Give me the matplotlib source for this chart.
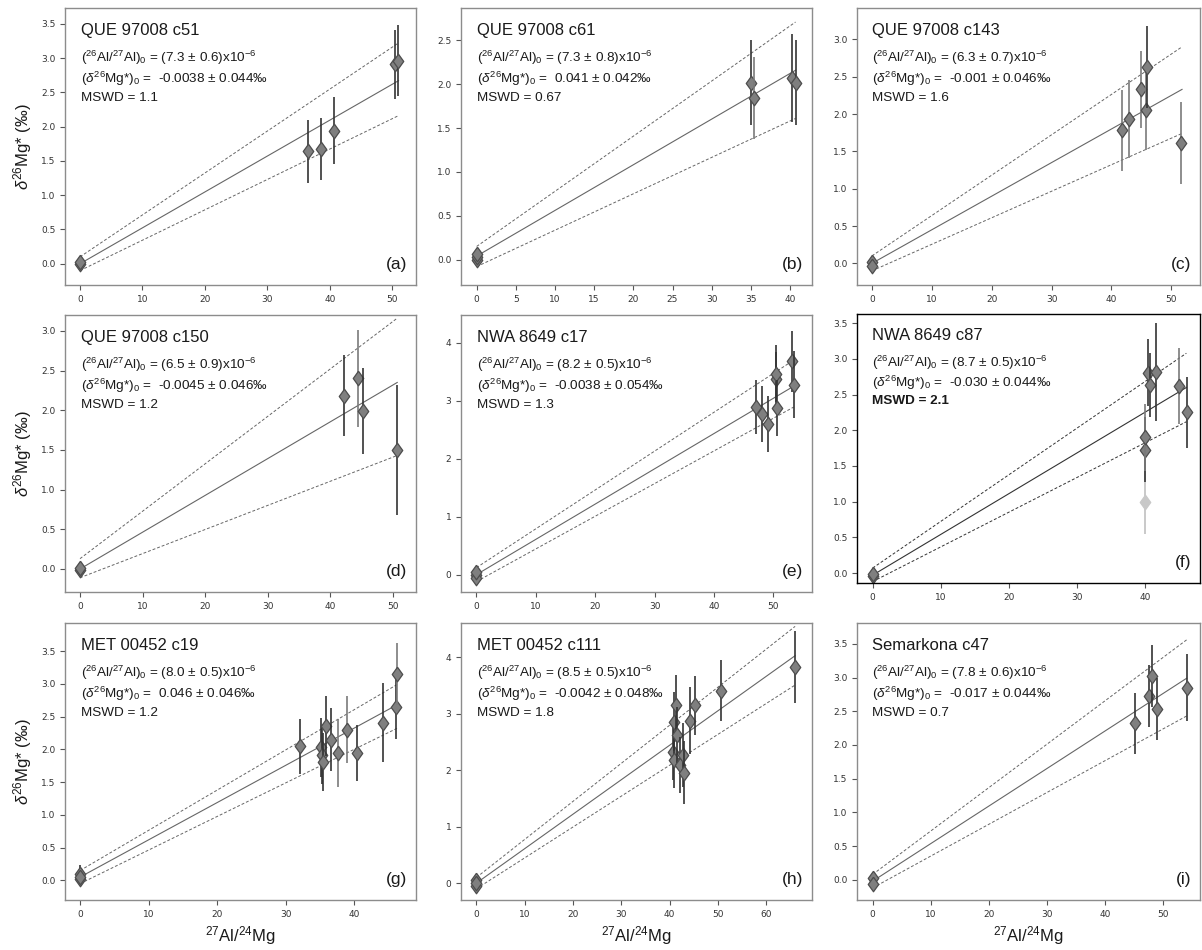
import numpy as np
import matplotlib
matplotlib.use('Agg')
import matplotlib.pyplot as plt
from matplotlib.ticker import MultipleLocator

plt.rcParams['font.family'] = ['Liberation Sans', 'DejaVu Sans']
plt.rcParams['mathtext.fontset'] = 'custom'
plt.rcParams['mathtext.rm'] = 'Liberation Sans'
plt.rcParams['mathtext.it'] = 'Liberation Sans:italic'
plt.rcParams['mathtext.bf'] = 'Liberation Sans:bold'

# sample names and fit results
names = ['QUE 97008 c51', 'QUE 97008 c61', 'QUE 97008 c143',
         'QUE 97008 c150', 'NWA 8649 c17', 'NWA 8649 c87',
         'MET 00452 c19', 'MET 00452 c111', 'Semarkona c47']
ratio = ['(7.3 ± 0.6)', '(7.3 ± 0.8)', '(6.3 ± 0.7)',
         '(6.5 ± 0.9)', '(8.2 ± 0.5)', '(8.7 ± 0.5)',
         '(8.0 ± 0.5)', '(8.5 ± 0.5)', '(7.8 ± 0.6)']
intercept = ['-0.0038 ± 0.044', '0.041 ± 0.042', '-0.001 ± 0.046',
             '-0.0045 ± 0.046', '-0.0038 ± 0.054', '-0.030 ± 0.044',
             '0.046 ± 0.046', '-0.0042 ± 0.048', '-0.017 ± 0.044']
mswd = ['1.1', '0.67', '1.6', '1.2', '1.3', '2.1', '1.2', '1.8', '0.7']
letters = ['a', 'b', 'c', 'd', 'e', 'f', 'g', 'h', 'i']

# data points: 27Al/24Mg, d26Mg*, 2sigma error
x_a = [0, 0, 36.5, 38.6, 40.6, 50.5, 50.9]
y_a = [0.0, 0.02, 1.64, 1.67, 1.94, 2.91, 2.96]
e_a = [0.06, 0.06, 0.46, 0.45, 0.49, 0.50, 0.52]

x_b = [0, 0, 0, 35.0, 35.4, 40.3, 40.7]
y_b = [-0.01, 0.03, 0.06, 2.02, 1.84, 2.07, 2.02]
e_b = [0.05, 0.05, 0.05, 0.49, 0.47, 0.50, 0.49]

x_c = [0, 0, 41.7, 42.9, 44.9, 45.7, 46.0, 51.6]
y_c = [0.02, -0.03, 1.78, 1.93, 2.33, 2.05, 2.63, 1.61]
e_c = [0.06, 0.06, 0.54, 0.52, 0.52, 0.53, 0.55, 0.55]

x_d = [0, 0, 42.2, 44.4, 45.3, 50.7]
y_d = [-0.01, 0.01, 2.18, 2.40, 1.99, 1.50]
e_d = [0.07, 0.07, 0.51, 0.61, 0.54, 0.82]

x_e = [0, 0, 0, 47.1, 48.0, 49.1, 50.4, 50.5, 50.6, 53.1, 53.4]
y_e = [0.0, -0.06, 0.05, 2.89, 2.77, 2.60, 3.38, 3.47, 2.88, 3.68, 3.28]
e_e = [0.08, 0.08, 0.08, 0.47, 0.48, 0.48, 0.47, 0.49, 0.48, 0.53, 0.58]

x_f = [0, 0, 39.9, 40.0, 40.0, 40.4, 40.6, 41.5, 44.9, 46.1]
y_f = [-0.04, -0.02, 0.99, 1.73, 1.90, 2.81, 2.64, 2.82, 2.62, 2.25]
e_f = [0.07, 0.07, 0.45, 0.46, 0.47, 0.47, 0.45, 0.69, 0.53, 0.50]

x_g = [0, 0, 0, 32.1, 35.1, 35.3, 35.4, 35.8, 36.6, 37.6, 39.0, 40.4, 44.2, 46.1, 46.3]
y_g = [0.09, 0.02, 0.05, 2.05, 2.03, 1.92, 1.81, 2.36, 2.15, 1.95, 2.30, 1.95, 2.41, 2.65, 3.15]
e_g = [0.15, 0.10, 0.10, 0.42, 0.45, 0.45, 0.44, 0.46, 0.48, 0.52, 0.51, 0.43, 0.61, 0.49, 0.47]

x_h = [0, 0, 0, 40.7, 41.0, 41.0, 41.3, 41.5, 42.1, 42.8, 43.0, 44.3, 45.2, 50.7, 65.9]
y_h = [0.05, -0.05, 0.0, 2.33, 2.18, 2.86, 3.16, 2.62, 2.09, 2.27, 1.96, 2.88, 3.15, 3.41, 3.83]
e_h = [0.08, 0.08, 0.08, 0.50, 0.50, 0.52, 0.52, 0.50, 0.50, 0.56, 0.56, 0.60, 0.52, 0.54, 0.63]

x_i = [0, 0, 45.2, 47.6, 48.1, 48.9, 54.1]
y_i = [0.03, -0.06, 2.32, 2.73, 3.03, 2.54, 2.85]
e_i = [0.07, 0.07, 0.45, 0.46, 0.46, 0.46, 0.50]

# faded (light grey) points and lighter error bars
faded = [[], [], [], [], [], [2], [], [], []]
light_bar = [[], [4], [2, 3, 4, 5, 7], [3], [], [4, 8], [9, 10, 14], [], []]

# isochron lines: end x, fit (y at 0, y at end), envelope
x_end = [51.0, 40.7, 51.8, 50.7, 53.4, 46.0, 46.4, 66.0, 54.0]
fit_0 = [0.0, 0.04, 0.0, 0.0, 0.0, -0.03, 0.05, 0.0, -0.02]
fit_1 = [2.67, 2.16, 2.33, 2.35, 3.25, 2.60, 2.69, 4.03, 2.99]
up_0 = [0.10, 0.15, 0.10, 0.13, 0.12, 0.07, 0.15, 0.10, 0.08]
up_1 = [3.22, 2.71, 2.90, 3.16, 3.70, 3.08, 3.00, 4.55, 3.56]
lo_0 = [-0.10, -0.08, -0.10, -0.11, -0.12, -0.12, -0.05, -0.10, -0.12]
lo_1 = [2.16, 1.61, 1.74, 1.43, 2.89, 2.12, 2.33, 3.51, 2.43]

xs = [x_a, x_b, x_c, x_d, x_e, x_f, x_g, x_h, x_i]
ys = [y_a, y_b, y_c, y_d, y_e, y_f, y_g, y_h, y_i]
es = [e_a, e_b, e_c, e_d, e_e, e_f, e_g, e_h, e_i]

# axis ranges and tick steps
x_lim = [(-2.4, 53.8), (-2.0, 42.8), (-2.5, 54.8), (-2.4, 53.7), (-2.6, 56.5),
         (-2.3, 48.0), (-2.2, 49.0), (-3.2, 69.5), (-2.7, 56.3)]
y_lim = [(-0.31, 3.73), (-0.29, 2.87), (-0.29, 3.42), (-0.29, 3.20), (-0.30, 4.48),
         (-0.14, 3.63), (-0.30, 3.93), (-0.30, 4.61), (-0.30, 3.81)]
x_step = [10, 5, 10, 10, 10, 10, 10, 10, 10]
y_step = [0.5, 0.5, 0.5, 0.5, 1, 0.5, 0.5, 1, 0.5]

W, H = 1202, 950
lefts = [65, 461, 857]
widths = [351, 351, 343]
tops = [8, 315, 623]
hgt = 277

diamond = [(0, 1), (0.72, 0), (0, -1), (-0.72, 0), (0, 1)]

fig = plt.figure(figsize=(W/100, H/100), dpi=100)
for k in range(9):
    r, c = k // 3, k % 3
    top, h = tops[r], hgt
    if k == 5:
        top, h = 314, 269
    ax = fig.add_axes([lefts[c]/W, 1 - (top + h)/H, widths[c]/W, h/H])
    edge = 'black' if k == 5 else '#8c8c8c'
    linec = '#333333' if k == 5 else '#666666'
    for s in ax.spines.values():
        s.set_color(edge)
        s.set_linewidth(1.0)

    # isochron and envelope
    ax.plot([0, x_end[k]], [fit_0[k], fit_1[k]], '-', color=linec, lw=0.8)
    ax.plot([0, x_end[k]], [up_0[k], up_1[k]], '--', color=linec, lw=0.7, dashes=(3, 2))
    ax.plot([0, x_end[k]], [lo_0[k], lo_1[k]], '--', color=linec, lw=0.7, dashes=(3, 2))

    x = np.array(xs[k])
    y = np.array(ys[k])
    e = np.array(es[k])
    for j in range(len(x)):
        if j in faded[k]:
            bc, fc, ec = '#c0c0c0', '#c8c8c8', '#c8c8c8'
        elif j in light_bar[k]:
            bc, fc, ec = '#7a7a7a', '#7f7f7f', '#4d4d4d'
        else:
            bc, fc, ec = '#333333', '#7f7f7f', '#4d4d4d'
        ax.errorbar(x[j], y[j], yerr=e[j], fmt='none', ecolor=bc, elinewidth=1.2, capsize=0)
        ax.plot(x[j], y[j], marker=diamond, ms=10.5, mfc=fc, mec=ec, mew=0.9, ls='none')

    ax.set_xlim(*x_lim[k])
    ax.set_ylim(*y_lim[k])
    ax.xaxis.set_major_locator(MultipleLocator(x_step[k]))
    ax.yaxis.set_major_locator(MultipleLocator(y_step[k]))
    ax.tick_params(axis='both', labelsize=6.5, labelcolor='#333333', color='#555555',
                   length=3.5, width=0.8, direction='out')
    for t in ax.get_xticklabels() + ax.get_yticklabels():
        t.set_fontfamily('DejaVu Sans')

    ax.text(0.045, 0.92, names[k], transform=ax.transAxes, fontsize=12,
            color='#1a1a1a', va='center', ha='left')
    ax.text(0.045, 0.82, r'($^{26}$Al/$^{27}$Al)$_0$ = ' + ratio[k] + r'x10$^{-6}$',
            transform=ax.transAxes, fontsize=9.7, color='#1a1a1a', va='center')
    ax.text(0.045, 0.745, r'($\delta^{26}$Mg*)$_0$ =  ' + intercept[k] + '‰',
            transform=ax.transAxes, fontsize=9.7, color='#1a1a1a', va='center')
    ax.text(0.045, 0.675, 'MSWD = ' + mswd[k], transform=ax.transAxes,
            fontsize=9.7, color='#1a1a1a', va='center',
            fontweight='bold' if k == 5 else 'normal')
    ax.text(0.975, 0.075, '(' + letters[k] + ')', transform=ax.transAxes,
            fontsize=12.5, color='#1a1a1a', ha='right', va='center')

    if c == 0:
        ax.set_ylabel(r'$\delta^{26}$Mg* (‰)', fontsize=12, color='#1a1a1a', labelpad=5)
    if r == 2:
        ax.set_xlabel(r'$^{27}$Al/$^{24}$Mg', fontsize=12, color='#1a1a1a', labelpad=4)

plt.savefig('out.png', dpi=100)
